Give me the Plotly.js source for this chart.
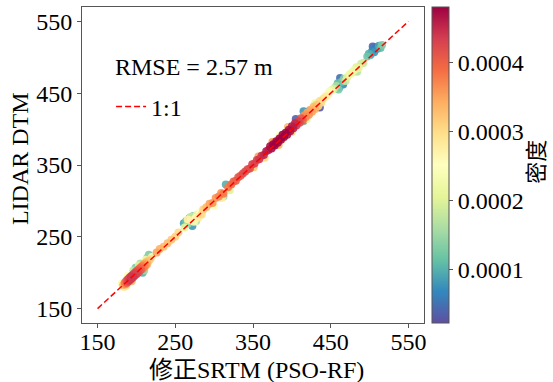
<!DOCTYPE html>
<html>
<head>
<meta charset="utf-8">
<script src="https://cdn.plot.ly/plotly-3.0.1.min.js"></script>
<style>html,body{margin:0;padding:0;background:#fff;}</style>
</head>
<body>
<div id="chart" style="width:553px;height:382px;"></div>
<script>
// Corrected SRTM (PSO-RF) elevation, x
const srtmX = [
183,185,186,187,188,189,190,191,192,193,194,195,196,197,198,199,200,201,202,203,204,205,206,207,208,209,210,211,212,213,214,216,218,184,189,196,199,208,203,214,216,212,220,187,194,181,205,210,
226,230,235,240,245,250,254,
261,264,266,268,270,272,273,274,276,278,280,282,284,286,266,270,262,277,
290,294,298,302,306,309,312,315,318,320,322,325,328,331,334,337,340,310,300,312,
343,346,349,352,355,358,361,364,367,370,372,374,376,378,380,382,384,386,388,390,392,394,396,398,400,402,404,406,408,410,412,414,351,357,365,375,383,395,400,384,388,405,415,
416,418,420,422,424,426,428,430,432,434,436,438,440,443,446,415,423,436,419,430,448,451,454,
457,459,461,462,464,466,467,469,460,471,474,477,
480,483,486,489,492,484,
497,499,501,503,505,506,508,510,512,514,516,504
];
// LIDAR DTM elevation, y
const lidarY = [
183,186,184,189,186,191,188,193,190,195,192,197,194,199,196,201,198,203,200,205,202,207,204,209,206,211,208,213,210,215,212,217,219,180,196,203,207,200,210,221,225,218,222,182,188,185,213,203,
228,233,236,241,246,250,256,
269,272,268,276,273,265,279,271,276,281,277,284,281,288,274,278,263,272,
291,296,297,304,306,311,310,323,319,315,323,327,328,333,335,338,341,304,293,306,
344,345,351,352,357,358,363,364,369,371,376,373,379,377,383,381,387,385,392,389,395,392,399,397,404,401,408,405,411,409,415,412,347,362,360,382,378,403,396,391,386,414,411,
419,417,423,420,427,424,431,428,434,432,439,437,442,445,447,425,426,430,414,436,452,454,456,
460,464,458,471,466,462,470,467,455,472,476,478,
482,486,485,491,492,480,
501,505,503,508,511,507,514,512,516,513,517,515
];
// Point density (colour)
const density = [
0.00034,0.00038,0.00037,0.00040,0.00041,0.00042,0.00043,0.00043,0.00044,0.00044,0.00044,0.00043,0.00044,0.00043,0.00043,0.00042,0.00043,0.00041,0.00042,0.00040,0.00041,0.00039,0.00040,0.00038,0.00038,0.00036,0.00037,0.00035,0.00036,0.00033,0.00034,0.00032,0.00030,0.00028,0.00025,0.00018,0.00012,0.00010,0.00020,0.00014,0.00013,0.00022,0.00026,0.00030,0.00033,0.00024,0.00016,0.00015,
0.00035,0.00034,0.00033,0.00033,0.00032,0.00031,0.00030,
0.00009,0.00012,0.00015,0.00010,0.00020,0.00008,0.00013,0.00024,0.00026,0.00022,0.00028,0.00025,0.00030,0.00031,0.00027,0.00018,0.00021,0.00017,
0.00033,0.00035,0.00036,0.00036,0.00037,0.00036,0.00038,0.00010,0.00038,0.00020,0.00039,0.00040,0.00040,0.00041,0.00041,0.00042,0.00042,0.00028,0.00025,0.00015,
0.00042,0.00042,0.00043,0.00043,0.00043,0.00044,0.00044,0.00045,0.00046,0.00046,0.00047,0.00047,0.00048,0.00048,0.00048,0.00048,0.00048,0.00048,0.00048,0.00048,0.00048,0.00047,0.00047,0.00047,0.00046,0.00046,0.00045,0.00044,0.00043,0.00042,0.00041,0.00040,0.00032,0.00035,0.00030,0.00036,0.00034,0.00033,0.00030,0.00025,0.00028,0.00004,0.00012,
0.00036,0.00037,0.00035,0.00036,0.00034,0.00035,0.00033,0.00034,0.00032,0.00031,0.00030,0.00030,0.00029,0.00028,0.00027,0.00008,0.00006,0.00003,0.00020,0.00022,0.00024,0.00022,0.00019,
0.00016,0.00011,0.00009,0.00005,0.00012,0.00007,0.00014,0.00018,0.00013,0.00020,0.00022,0.00021,
0.00022,0.00020,0.00021,0.00019,0.00018,0.00017,
0.00012,0.00010,0.00009,0.00007,0.00006,0.00008,0.00005,0.00007,0.00009,0.00011,0.00013,0.00004
];
const lineX = [150, 550];
const lineY = [150, 550];
const axisTicks = [150, 250, 350, 450, 550];
const cbTicks = [0.0001, 0.0002, 0.0003, 0.0004];
const rmseText = 'RMSE = 2.57 m';
const xTitle = '修正SRTM (PSO-RF)';
const yTitle = 'LIDAR DTM';
const cbTitle = '密度';

// draw low density first so dense points sit on top
const order = density.map((d, i) => i).sort((a, b) => density[a] - density[b]);
const sx = order.map(i => srtmX[i]);
const sy = order.map(i => lidarY[i]);
const sd = order.map(i => density[i]);

const spectralR = [
  [0.0, '#5e4fa2'], [0.1, '#3288bd'], [0.2, '#66c2a5'], [0.3, '#abdda4'],
  [0.4, '#e6f598'], [0.5, '#ffffbf'], [0.6, '#fee08b'], [0.7, '#fdae61'],
  [0.8, '#f46d43'], [0.9, '#d53e4f'], [1.0, '#9e0142']
];

const FONT = 'Liberation Serif, Times New Roman, Noto Sans CJK SC, serif';
const FS = 24;

const traces = [
  {
    type: 'scatter', mode: 'markers', x: sx, y: sy, showlegend: false,
    marker: {
      size: 8, color: sd, colorscale: spectralR, cmin: 0.0000226, cmax: 0.000481,
      opacity: 0.9, line: {width: 0},
      colorbar: {
        x: 1.023, xanchor: 'left', xpad: 0, ypad: 0, y: 0.5, yanchor: 'middle', len: 1,
        thickness: 17, outlinewidth: 1, outlinecolor: '#555',
        tickvals: cbTicks, tickformat: '.4f', ticks: 'outside', ticklen: 4, tickcolor: '#555',
        tickfont: {family: FONT, size: FS, color: '#000'}
      }
    }
  },
  {
    type: 'scatter', mode: 'lines', x: lineX, y: lineY, name: '1:1',
    line: {color: '#ff0000', width: 1.5, dash: '6px,3px'}
  },
  // invisible helper trace that carries the tick-mark axis
  {type: 'scatter', mode: 'markers', x: lineX, y: lineY, xaxis: 'x2', yaxis: 'y',
   marker: {opacity: 0}, showlegend: false, hoverinfo: 'skip'}
];

const axisCommon = {
  range: [130, 570], tickvals: axisTicks, ticks: 'outside', ticklen: 4, tickcolor: '#555',
  showline: true, mirror: true, linecolor: '#555', linewidth: 1,
  showgrid: false, zeroline: false,
  tickfont: {family: FONT, size: FS, color: '#000'}
};

const layout = {
  width: 553, height: 382,
  margin: {l: 82, r: 129, t: 7, b: 59},
  paper_bgcolor: '#fff', plot_bgcolor: '#fff',
  font: {family: FONT, size: FS, color: '#000'},
  xaxis: Object.assign({}, axisCommon, {ticks: '', ticklabelstandoff: -3}),
  xaxis2: {range: [130, 570], tickvals: axisTicks, ticks: 'outside', ticklen: 4, tickcolor: '#555',
           overlaying: 'x', anchor: 'y', side: 'bottom', showticklabels: false,
           showline: false, showgrid: false, zeroline: false},
  yaxis: Object.assign({}, axisCommon),
  showlegend: true,
  legend: {x: 0.085, y: 0.684, xanchor: 'left', yanchor: 'middle', bgcolor: 'rgba(0,0,0,0)',
           font: {family: FONT, size: FS, color: '#000'}, borderwidth: 0},
  annotations: [
    {xref: 'paper', yref: 'paper', x: 0.51, y: -0.148, xanchor: 'center', yanchor: 'middle',
     text: xTitle, showarrow: false, font: {family: FONT, size: FS, color: '#000'}},
    {xref: 'paper', yref: 'paper', x: 0.0906, y: 0.81, xanchor: 'left', yanchor: 'middle',
     text: rmseText, showarrow: false, font: {family: FONT, size: FS, color: '#000'}},
    {xref: 'paper', yref: 'paper', x: -0.183, y: 0.52, xanchor: 'center', yanchor: 'middle',
     text: yTitle, textangle: -90, showarrow: false, font: {family: FONT, size: FS, color: '#000'}},
    {xref: 'paper', yref: 'paper', x: 1.33, y: 0.51, xanchor: 'center', yanchor: 'middle',
     text: cbTitle, textangle: -90, showarrow: false, font: {family: FONT, size: 22, color: '#000'}}
  ]
};

Plotly.newPlot('chart', traces, layout, {displayModeBar: false, staticPlot: true});
</script>
</body>
</html>
